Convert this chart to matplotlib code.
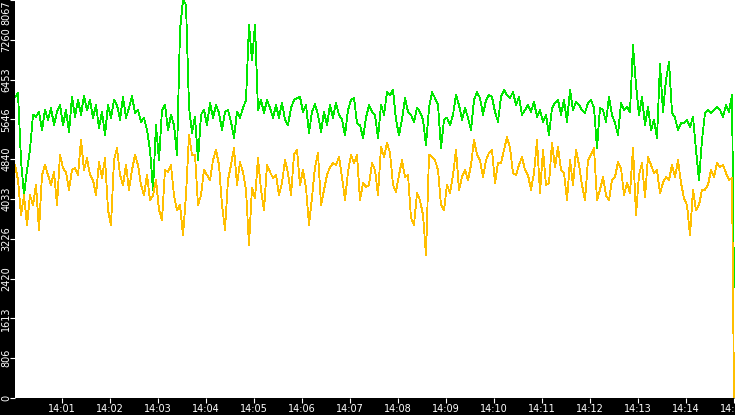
import matplotlib
matplotlib.use('Agg')
import matplotlib.pyplot as plt
import matplotlib.dates as mdates
import numpy as np
import pandas as pd

# значения по двум сериям, шаг выборки 3.75 с
green = [
    6100, 6180, 4820, 4110, 4620, 5030, 5740, 5700, 5800, 5430,
    5840, 5640, 5880, 5530, 5800, 5940, 5530, 5840, 5390, 6100,
    5700, 6040, 5740, 6120, 5840, 6040, 5680, 5940, 5470, 5800,
    5330, 5940, 5680, 6040, 5940, 5640, 6100, 5680, 5880, 6120,
    5780, 5840, 5600, 5680, 5430, 5030, 4220, 5530, 4820, 5840,
    5940, 5430, 5740, 5530, 4930, 7460, 8067, 7970,
    5900, 5370, 5700, 4820, 5740, 5840, 5530, 5980, 5680, 5940,
    5780, 5430, 5800, 5840, 5600, 5270, 5800, 5680, 5880, 6040,
    7560, 6850, 7560, 5840, 6040, 5780, 6040, 5880, 5680, 5940,
    5680,
    5980, 5640, 5530, 5880, 6040, 6080, 6100, 5800, 5940, 5370,
    5800, 5960, 5740, 5390, 5800, 5530, 5940, 5680, 5980, 5740,
    5640, 5330, 5840, 6040, 6080, 5570, 5530, 5270, 5680, 5940,
    5800, 5740, 5270, 5940, 5740,
    6200, 6140, 6240, 5640, 5330, 5640, 6080, 5800, 5740, 5600,
    5880, 5800, 5640, 5130, 5880, 6200, 6080, 5940, 5070, 5640,
    5680, 5530, 5740, 6140, 5940, 5640, 5880, 5680, 5430, 6040,
    6200, 6080, 5740, 6040, 6140, 6100,
    5800, 5600, 6100, 6240, 6140, 6080, 6200, 5940, 6100, 5740,
    5840, 5940, 5800, 6000, 5700, 5840, 5600, 5740, 5330, 5880,
    5980, 6040, 5740, 6040, 5600, 6240, 5840, 6000, 5940, 5840,
    5780, 5980, 6040, 5880, 5070, 5880, 5840,
    5600, 6100, 5740, 5570, 5330, 5980, 5840, 5900, 5800, 7150,
    6340, 5740, 6100, 5530, 5900, 5430, 5640, 5270, 6770, 5800,
    6450, 6810, 5780, 5680, 5430, 5570, 5570, 5640, 5490, 5700,
    5030, 4420, 5230, 5780, 5840, 5780, 5840, 5900, 5840, 5700,
    5940, 5800, 6140,
]
yellow = [
    4720, 4420, 3710, 4110, 3510, 4110, 3910, 4320, 3410, 4520,
    4720, 4520, 4320, 4580, 3910, 4930, 4660, 4580, 4220, 4620,
    4660, 4520, 5230, 4620, 4860, 4520, 4420, 4110, 4780, 4460,
    4860, 3810, 3510, 4820, 5070, 4520, 4320, 4720, 4220, 4620,
    4930, 4720, 4320, 4110, 4520, 4010, 4110, 4420, 3810, 3610,
    4620, 4580, 4720, 4110, 3810, 3910, 3300, 4110,
    5330, 4930, 4930, 3910, 4110, 4620, 4520, 4420, 4820, 5030,
    4720, 3910, 3410, 4420, 4720, 5070, 4320, 4780, 4580, 4220,
    3100, 4260, 4050, 4860, 4220, 3810, 4720, 4580, 4460, 4520,
    4110,
    4360, 4820, 4560, 4110, 4930, 5030, 4320, 4620, 4260, 3510,
    4070, 4680, 4970, 3910, 4220, 4520, 4680, 4760, 4720, 4890,
    4480, 4010, 4580, 4930, 4760, 4930, 4010, 4360, 4280, 4320,
    4760, 4620, 4110, 5090, 4890,
    5170, 4970, 4320, 4180, 4520, 4820, 4480, 4520, 3650, 3510,
    4150, 4010, 3710, 2900, 4930, 4890, 4820, 4620, 3910, 3810,
    4320, 4150, 4520, 5030, 4220, 4480, 4620, 4420, 4720, 5230,
    4930, 4820, 4480, 4820, 4970, 5030,
    4360, 4760, 4760, 5030, 5290, 5070, 4560, 4520, 4720, 4890,
    4620, 4520, 4220, 4560, 5230, 4150, 5030, 4320, 4360, 5170,
    4680, 5090, 4620, 4560, 4010, 4820, 4320, 5030, 4720, 4320,
    4010, 4820, 4930, 5070, 4010, 4220, 4480,
    4110, 4010, 4420, 4480, 4780, 4660, 4110, 4360, 4150, 5070,
    3710, 4520, 4760, 4070, 4890, 4720, 4560, 4620, 4150, 4360,
    4480, 4420, 4720, 4480, 4820, 4360, 4050, 3910, 3300, 4220,
    3810, 3910, 4220, 4220, 4320, 4620, 4480, 4760, 4680, 4720,
    4560, 4420, 4460,
]
# последняя точка (обрыв в конце)
green_end = 2250
yellow_end = 0

y_max = 8067
t_start = pd.Timestamp('2024-01-01 14:00:01.250')
t_end = pd.Timestamp('2024-01-01 14:15:00')
t_right = pd.Timestamp('2024-01-01 14:15:01.250')

times = list(pd.date_range(t_start, periods=len(green), freq='3750ms').to_pydatetime())
times.append(t_end.to_pydatetime())
green_all = green + [green_end]
yellow_all = yellow + [yellow_end]

fig = plt.figure(figsize=(7.35, 4.15), dpi=100, facecolor='black')
ax = fig.add_axes([15 / 735, 17 / 415, 720 / 735, 398 / 415])
ax.set_facecolor('white')

ax.plot(times, green_all, color='#00e600', lw=0.6, antialiased=False)
ax.plot(times, yellow_all, color='#ffbf00', lw=0.6, antialiased=False)

ax.set_xlim(t_start.to_pydatetime(), t_right.to_pydatetime())
ax.set_ylim(0, y_max)

for s in ax.spines.values():
    s.set_visible(False)

yt = [y_max * i / 10 for i in range(11)]
ax.set_yticks(yt)
ax.set_yticklabels([str(int(v)) for v in yt], rotation=90, va='center')
ax.get_yticklabels()[-1].set_va('top')

ax.xaxis.set_major_locator(mdates.MinuteLocator())
ax.xaxis.set_major_formatter(mdates.DateFormatter('%H:%M'))

ax.tick_params(colors='white', labelcolor='white', labelsize=7, length=3.6,
               width=0.8, direction='out')
ax.tick_params(axis='y', pad=-1.0)
ax.tick_params(axis='x', pad=1.0)
for lab in ax.get_xticklabels() + ax.get_yticklabels():
    lab.set_family('DejaVu Sans')

fig.savefig('out.png', dpi=100, facecolor='black')
